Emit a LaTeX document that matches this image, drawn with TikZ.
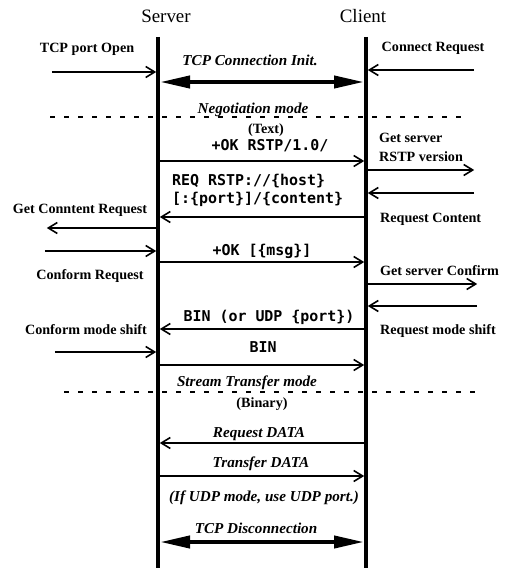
\documentclass[tikz,border=0pt]{standalone}
\usepackage{fontspec}
\setmainfont{Liberation Serif}
\setmonofont{DejaVu Sans Mono}
\usetikzlibrary{arrows.meta}

\begin{document}
\begin{tikzpicture}[x=1bp,y=-1bp,
  lifeline/.style={line width=3.6bp},
  msg/.style={line width=1.5bp,
    -{Straight Barb[length=9bp,width=11bp,line width=1.6bp]},
    shorten >=1.8bp, shorten <=1.8bp},
  conn/.style={line width=4bp,
    {Triangle[length=30bp,width=12bp]}-{Triangle[length=30bp,width=12bp]},
    shorten <=2bp, shorten >=2bp},
  phase/.style={line width=2.6bp, dash pattern=on 5bp off 9bp},
  lbl/.style={font=\fontsize{14.2}{16}\selectfont\bfseries, anchor=base, inner sep=0pt},
  rlbl/.style={lbl, anchor=base west},
  ital/.style={font=\fontsize{15.2}{17}\selectfont\bfseries\itshape, anchor=base, inner sep=0pt},
  code/.style={font=\fontsize{15}{18}\selectfont\ttfamily\bfseries, anchor=base, inner sep=0pt},
  head/.style={font=\fontsize{19}{22}\selectfont, anchor=base, inner sep=0pt},
]
\useasboundingbox (0,0) rectangle (509,568);

% participants and lifelines
\node[head] (server) at (166,23) {Server};
\node[head] (client) at (363,23) {Client};
\coordinate (S0) at (158,37);
\coordinate (S1) at (158,568);
\coordinate (C0) at (366,37);
\coordinate (C1) at (366,568);
\draw[lifeline] (S0) -- (S1);
\draw[lifeline] (C0) -- (C1);

% connection set-up
\node[lbl] (portopen) at (87,53) {TCP port Open};
\node[lbl] (connreq) at (433,52) {Connect Request};
\coordinate (po) at (50,72);
\coordinate (cr) at (476,70);
\draw[msg] (po) -- (S0 |- po);
\draw[msg] (cr) -- (C0 |- cr);
\node[ital] (init) at (250,66) {TCP Connection Init.};
\draw[conn] (S0 |- 0,82) -- (C0 |- 0,82);

% negotiation phase
\coordinate (n0) at (50,117);
\coordinate (n1) at (468,117);
\draw[phase] (n0) -- (n1);
\node[ital] (negot) at (253,114) {Negotiation mode};
\node[lbl] (textmode) at (266,134) {(Text)};

\node[code] (okver) at (270,151) {+OK RSTP/1.0/};
\draw[msg] (S0 |- 0,161) -- (C0 |- 0,161);
\node[rlbl] (getver1) at (379,143) {Get server};
\node[rlbl] (getver2) at (379,162) {RSTP version};
\coordinate (gv) at (476,170);
\draw[msg] (C0 |- gv) -- (gv);

\coordinate (rc) at (476,193);
\draw[msg] (rc) -- (C0 |- rc);
\node[rlbl] (reqcont) at (380,222) {Request Content};
\node[code, anchor=north west, align=left] (req) at (172,174)
  {REQ RSTP://\{host\}\\{[}:\{port\}{]}/\{content\}};
\draw[msg] (C0 |- 0,217) -- (S0 |- 0,217);
\node[lbl] (getcont) at (80,213) {Get Conntent Request};
\coordinate (gc) at (45,228);
\draw[msg] (S0 |- gc) -- (gc);

\coordinate (cf) at (43,251);
\draw[msg] (cf) -- (S0 |- cf);
\node[code] (okmsg) at (262,255) {+OK [\{msg\}]};
\draw[msg] (S0 |- 0,262) -- (C0 |- 0,262);
\node[lbl] (confreq) at (90,279) {Conform Request};
\node[rlbl] (getconf) at (380,275) {Get server Confirm};
\coordinate (gs) at (479,284);
\draw[msg] (C0 |- gs) -- (gs);

\coordinate (rm) at (479,306);
\draw[msg] (rm) -- (C0 |- rm);
\node[code] (binudp) at (269,321) {BIN (or UDP \{port\})};
\draw[msg] (C0 |- 0,329) -- (S0 |- 0,329);
\node[lbl] (confshift) at (86,334) {Conform mode shift};
\node[rlbl] (reqshift) at (380,334) {Request mode shift};

\coordinate (cs) at (53,352);
\draw[msg] (cs) -- (S0 |- cs);
\node[code] (bin) at (263,352) {BIN};
\draw[msg] (S0 |- 0,365) -- (C0 |- 0,365);

% stream transfer phase
\coordinate (t0) at (64,392);
\coordinate (t1) at (478,392);
\draw[phase] (t0) -- (t1);
\node[ital] (stream) at (247,386) {Stream Transfer mode};
\node[lbl] (binary) at (262,407) {(Binary)};

\node[ital] (reqdata) at (259,437) {Request DATA};
\draw[msg] (C0 |- 0,443) -- (S0 |- 0,443);
\node[ital] (xferdata) at (261,467) {Transfer DATA};
\draw[msg] (S0 |- 0,476) -- (C0 |- 0,476);
\node[ital] (udpnote) at (264,501) {(If UDP mode, use UDP port.)};

\node[ital] (disc) at (256,533) {TCP Disconnection};
\draw[conn] (S0 |- 0,542) -- (C0 |- 0,542);
\end{tikzpicture}
\end{document}
